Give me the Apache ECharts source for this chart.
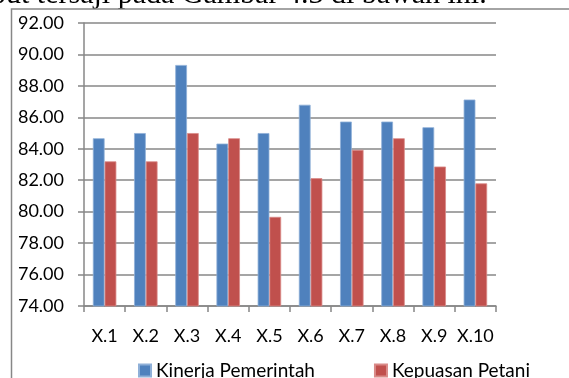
<!DOCTYPE html>
<html>
<head>
<meta charset="utf-8">
<script src="https://cdn.jsdelivr.net/npm/echarts@6/dist/echarts.min.js"></script>
<style>
  html, body { margin: 0; padding: 0; background: #fff; }
  #chart { width: 569px; height: 378px; }
</style>
</head>
<body>
<div id="chart"></div>
<script>
// Indicator codes along the category axis
const categories = ['X.1', 'X.2', 'X.3', 'X.4', 'X.5', 'X.6', 'X.7', 'X.8', 'X.9', 'X.10'];
// Government performance scores
const kinerjaPemerintah = [84.67, 85.00, 89.33, 84.33, 85.00, 86.80, 85.73, 85.73, 85.37, 87.13];
// Farmer satisfaction scores
const kepuasanPetani = [83.20, 83.20, 85.00, 84.67, 79.67, 82.13, 83.93, 84.67, 82.87, 81.80];
// Value axis range
const yMin = 74, yMax = 92, yStep = 2;

const chart = echarts.init(document.getElementById('chart'), null, { renderer: 'canvas' });

const labelFont = 'Lato, "Open Sans", sans-serif';
const lineGray = '#878787';

chart.setOption({
  animation: false,
  backgroundColor: '#ffffff',
  textStyle: { fontFamily: labelFont },
  graphic: [
    {
      type: 'text',
      x: -9,
      y: -5,
      style: {
        text: 'but tersaji pada Gambar 4.3 di bawah ini.',
        font: '30px "Liberation Serif", "Times New Roman", serif',
        fill: '#000',
        verticalAlign: 'middle'
      }
    },
    {
      type: 'polyline',
      shape: { points: [[11.5, 378], [11.5, 9], [569, 9]] },
      style: { stroke: lineGray, lineWidth: 1.5, fill: null }
    }
  ],
  legend: {
    left: 133,
    top: 356,
    itemWidth: 12,
    itemHeight: 12,
    itemGap: 59,
    icon: 'rect',
    textStyle: { fontSize: 19, color: '#000', fontFamily: labelFont },
    data: ['Kinerja Pemerintah', 'Kepuasan Petani']
  },
  grid: { left: 84, right: 73, top: 23, bottom: 72, containLabel: false },
  xAxis: {
    type: 'category',
    data: categories,
    boundaryGap: true,
    axisLine: { lineStyle: { color: lineGray, width: 1.5 } },
    axisTick: { show: true, length: 6, lineStyle: { color: lineGray, width: 1.5 } },
    axisLabel: { color: '#000', fontSize: 18, margin: 21, fontFamily: labelFont, interval: 0 }
  },
  yAxis: {
    type: 'value',
    min: yMin,
    max: yMax,
    interval: yStep,
    axisLine: { show: true, lineStyle: { color: lineGray, width: 1.5 } },
    axisTick: { show: true, length: 6, lineStyle: { color: lineGray, width: 1.5 } },
    axisLabel: {
      color: '#000', fontSize: 18, margin: 20, fontFamily: labelFont,
      formatter: v => v.toFixed(2)
    },
    splitLine: { show: true, lineStyle: { color: lineGray, width: 1.5 } }
  },
  series: [
    {
      name: 'Kinerja Pemerintah',
      type: 'bar',
      data: kinerjaPemerintah,
      barGap: '0%',
      barCategoryGap: '43%',
      itemStyle: { color: '#4F81BD', borderColor: '#8fb0d8', borderWidth: 0.8 }
    },
    {
      name: 'Kepuasan Petani',
      type: 'bar',
      data: kepuasanPetani,
      barGap: '0%',
      barCategoryGap: '43%',
      itemStyle: { color: '#C0504D', borderColor: '#d98a88', borderWidth: 0.8 }
    }
  ]
});
</script>
</body>
</html>
